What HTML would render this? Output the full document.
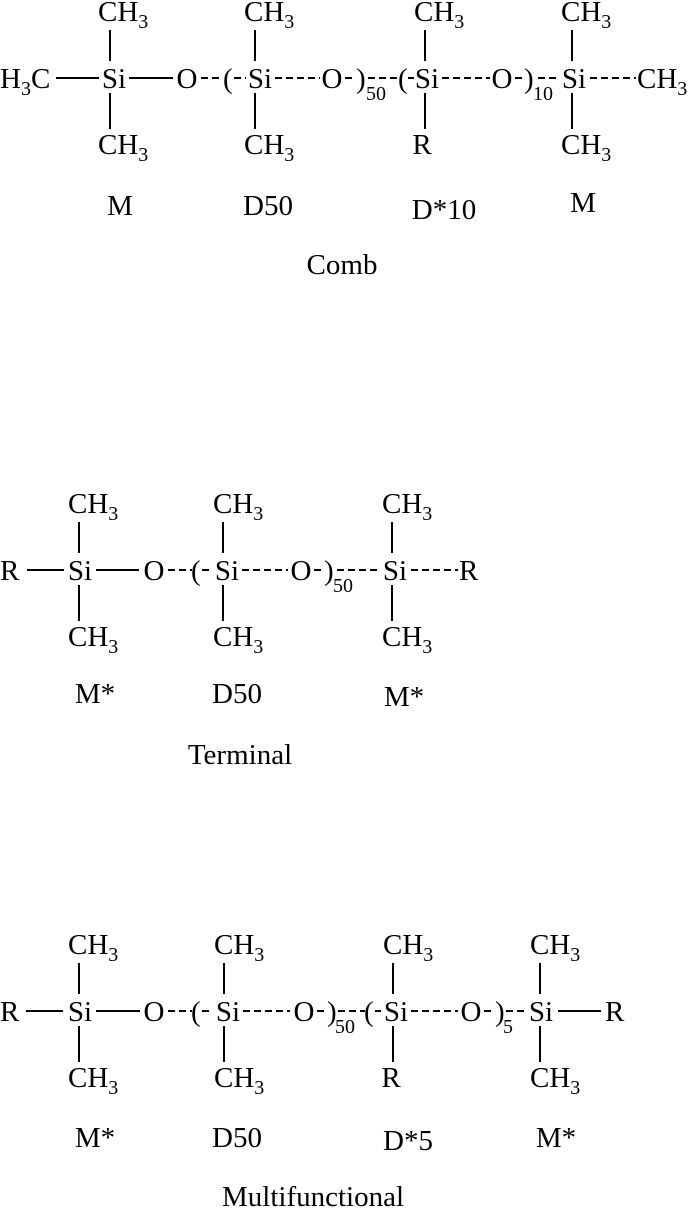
<!DOCTYPE html>
<html><head><meta charset="utf-8"><style>
html,body{margin:0;padding:0;background:#fff;}
svg{display:block;}
text{font-family:"Liberation Serif",serif;font-size:29px;fill:#000;}
.s{font-size:20px;}
line{stroke:#000;stroke-width:2;}
.d{stroke-dasharray:7,4;}
</style></head><body>
<svg width="689" height="1214" viewBox="0 0 689 1214">
<g transform="translate(0,88)">
<text x="0" y="0">H<tspan class="s" dy="7">3</tspan><tspan dy="-7">C</tspan></text>
<line x1="56" y1="-10" x2="99" y2="-10"/>
<text x="114" y="0" text-anchor="middle">Si</text>
<line x1="129" y1="-10" x2="173" y2="-10"/>
<text x="187" y="0" text-anchor="middle">O</text>
<line class="d" x1="201" y1="-10" x2="223" y2="-10"/>
<text x="223" y="0">(</text>
<line class="d" x1="234" y1="-10" x2="246" y2="-10"/>
<text x="260" y="0" text-anchor="middle">Si</text>
<line class="d" x1="275" y1="-10" x2="320" y2="-10"/>
<text x="332" y="0" text-anchor="middle">O</text>
<line class="d" x1="345" y1="-10" x2="356" y2="-10"/>
<text x="356" y="0">)</text>
<text class="s" x="366" y="12">50</text>
<line class="d" x1="368" y1="-10" x2="398" y2="-10"/>
<text x="398" y="0">(</text>
<line class="d" x1="408" y1="-10" x2="414" y2="-10"/>
<text x="427" y="0" text-anchor="middle">Si</text>
<line class="d" x1="442" y1="-10" x2="490" y2="-10"/>
<text x="502" y="0" text-anchor="middle">O</text>
<line class="d" x1="515" y1="-10" x2="524" y2="-10"/>
<text x="524" y="0">)</text>
<text class="s" x="533" y="12">10</text>
<line class="d" x1="538" y1="-10" x2="560" y2="-10"/>
<text x="574" y="0" text-anchor="middle">Si</text>
<line class="d" x1="590" y1="-10" x2="636" y2="-10"/>
<text x="637" y="0">CH<tspan class="s" dy="7">3</tspan></text>
<line x1="110" y1="-58" x2="110" y2="-27"/><line x1="110" y1="5" x2="110" y2="41"/>
<line x1="255" y1="-58" x2="255" y2="-27"/><line x1="255" y1="5" x2="255" y2="41"/>
<line x1="425" y1="-58" x2="425" y2="-27"/><line x1="425" y1="5" x2="425" y2="41"/>
<line x1="572" y1="-58" x2="572" y2="-27"/><line x1="572" y1="5" x2="572" y2="41"/>
<text x="98" y="-67">CH<tspan class="s" dy="7">3</tspan></text>
<text x="244" y="-67">CH<tspan class="s" dy="7">3</tspan></text>
<text x="414" y="-67">CH<tspan class="s" dy="7">3</tspan></text>
<text x="561" y="-67">CH<tspan class="s" dy="7">3</tspan></text>
<text x="98" y="66">CH<tspan class="s" dy="7">3</tspan></text>
<text x="244" y="66">CH<tspan class="s" dy="7">3</tspan></text>
<text x="422" y="66" text-anchor="middle">R</text>
<text x="561" y="66">CH<tspan class="s" dy="7">3</tspan></text>
</g>
<text x="120" y="215" text-anchor="middle">M</text>
<text x="268" y="215" text-anchor="middle">D50</text>
<text x="444" y="219" text-anchor="middle">D*10</text>
<text x="583" y="212" text-anchor="middle">M</text>
<text x="342" y="274" text-anchor="middle">Comb</text>

<g transform="translate(0,580)">
<text x="0" y="0">R</text>
<line x1="27" y1="-10" x2="64" y2="-10"/>
<text x="80" y="0" text-anchor="middle">Si</text>
<line x1="96" y1="-10" x2="139" y2="-10"/>
<text x="154" y="0" text-anchor="middle">O</text>
<line class="d" x1="168" y1="-10" x2="192" y2="-10"/>
<text x="191" y="0">(</text>
<line class="d" x1="202" y1="-10" x2="212" y2="-10"/>
<text x="227" y="0" text-anchor="middle">Si</text>
<line class="d" x1="242" y1="-10" x2="288" y2="-10"/>
<text x="301" y="0" text-anchor="middle">O</text>
<line class="d" x1="314" y1="-10" x2="324" y2="-10"/>
<text x="324" y="0">)</text>
<text class="s" x="333" y="12">50</text>
<line class="d" x1="337" y1="-10" x2="380" y2="-10"/>
<text x="395" y="0" text-anchor="middle">Si</text>
<line class="d" x1="411" y1="-10" x2="458" y2="-10"/>
<text x="459" y="0">R</text>
<line x1="79" y1="-58" x2="79" y2="-27"/><line x1="79" y1="5" x2="79" y2="41"/>
<line x1="223" y1="-58" x2="223" y2="-27"/><line x1="223" y1="5" x2="223" y2="41"/>
<line x1="392" y1="-58" x2="392" y2="-27"/><line x1="392" y1="5" x2="392" y2="41"/>
<text x="68" y="-67">CH<tspan class="s" dy="7">3</tspan></text>
<text x="213" y="-67">CH<tspan class="s" dy="7">3</tspan></text>
<text x="382" y="-67">CH<tspan class="s" dy="7">3</tspan></text>
<text x="68" y="66">CH<tspan class="s" dy="7">3</tspan></text>
<text x="213" y="66">CH<tspan class="s" dy="7">3</tspan></text>
<text x="382" y="66">CH<tspan class="s" dy="7">3</tspan></text>
</g>
<text x="95" y="703" text-anchor="middle">M*</text>
<text x="237" y="703" text-anchor="middle">D50</text>
<text x="404" y="706" text-anchor="middle">M*</text>
<text x="240" y="764" text-anchor="middle">Terminal</text>

<g transform="translate(0,1021)">
<text x="0" y="0">R</text>
<line x1="26" y1="-10" x2="63" y2="-10"/>
<text x="80" y="0" text-anchor="middle">Si</text>
<line x1="96" y1="-10" x2="140" y2="-10"/>
<text x="154" y="0" text-anchor="middle">O</text>
<line class="d" x1="168" y1="-10" x2="192" y2="-10"/>
<text x="191" y="0">(</text>
<line class="d" x1="202" y1="-10" x2="213" y2="-10"/>
<text x="228" y="0" text-anchor="middle">Si</text>
<line class="d" x1="243" y1="-10" x2="290" y2="-10"/>
<text x="304" y="0" text-anchor="middle">O</text>
<line class="d" x1="317" y1="-10" x2="327" y2="-10"/>
<text x="327" y="0">)</text>
<text class="s" x="335" y="12">50</text>
<line class="d" x1="338" y1="-10" x2="365" y2="-10"/>
<text x="364" y="0">(</text>
<line class="d" x1="375" y1="-10" x2="381" y2="-10"/>
<text x="396" y="0" text-anchor="middle">Si</text>
<line class="d" x1="411" y1="-10" x2="458" y2="-10"/>
<text x="471" y="0" text-anchor="middle">O</text>
<line class="d" x1="484" y1="-10" x2="495" y2="-10"/>
<text x="495" y="0">)</text>
<text class="s" x="503" y="12">5</text>
<line class="d" x1="506" y1="-10" x2="526" y2="-10"/>
<text x="541" y="0" text-anchor="middle">Si</text>
<line x1="558" y1="-10" x2="601" y2="-10"/>
<text x="605" y="0">R</text>
<line x1="79" y1="-58" x2="79" y2="-27"/><line x1="79" y1="5" x2="79" y2="41"/>
<line x1="224" y1="-58" x2="224" y2="-27"/><line x1="224" y1="5" x2="224" y2="41"/>
<line x1="393" y1="-58" x2="393" y2="-27"/><line x1="393" y1="5" x2="393" y2="41"/>
<line x1="540" y1="-58" x2="540" y2="-27"/><line x1="540" y1="5" x2="540" y2="41"/>
<text x="68" y="-67">CH<tspan class="s" dy="7">3</tspan></text>
<text x="214" y="-67">CH<tspan class="s" dy="7">3</tspan></text>
<text x="383" y="-67">CH<tspan class="s" dy="7">3</tspan></text>
<text x="530" y="-67">CH<tspan class="s" dy="7">3</tspan></text>
<text x="68" y="66">CH<tspan class="s" dy="7">3</tspan></text>
<text x="214" y="66">CH<tspan class="s" dy="7">3</tspan></text>
<text x="391" y="66" text-anchor="middle">R</text>
<text x="530" y="66">CH<tspan class="s" dy="7">3</tspan></text>
</g>
<text x="95" y="1147" text-anchor="middle">M*</text>
<text x="237" y="1147" text-anchor="middle">D50</text>
<text x="408" y="1150" text-anchor="middle">D*5</text>
<text x="556" y="1147" text-anchor="middle">M*</text>
<text x="313" y="1206" text-anchor="middle">Multifunctional</text>
</svg>
</body></html>
